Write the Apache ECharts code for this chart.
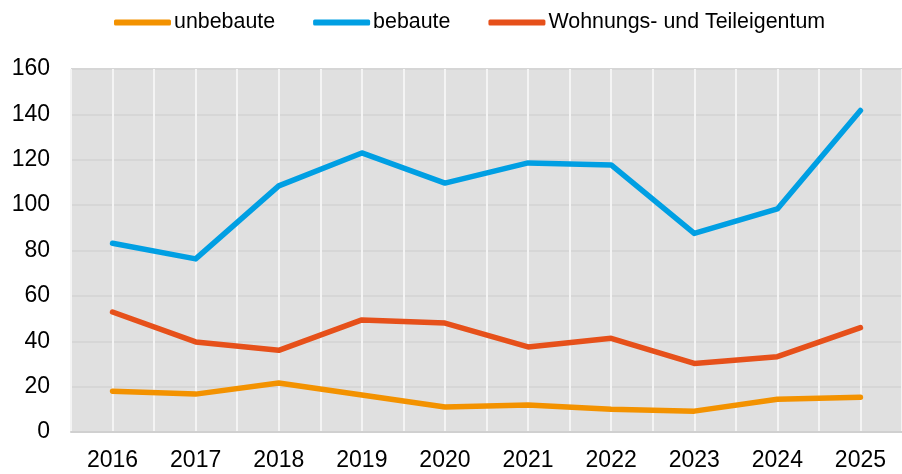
<!DOCTYPE html>
<html><head><meta charset="utf-8">
<script src="https://cdn.jsdelivr.net/npm/echarts@6/dist/echarts.min.js"></script>
<style>html,body{margin:0;padding:0;background:#fff}#c{width:902px;height:474px}</style>
</head><body><div id="c"></div>
<script>
const categories = ['2016','2017','2018','2019','2020','2021','2022','2023','2024','2025'];
const unbebaute = [18, 16.7, 21.6, 16.3, 11, 11.9, 10, 9.2, 14.4, 15.3];
const bebaute = [83.2, 76.3, 108.5, 123, 109.7, 118.6, 117.7, 87.5, 98.3, 141.7];
const wohnungs = [52.9, 39.7, 36, 49.4, 48, 37.5, 41.3, 30.2, 33.2, 46];
const yTicks = [0, 20, 40, 60, 80, 100, 120, 140, 160];
const halfSteps = categories.flatMap(c => [c + 'a', c + 'b']);
const font = 'Liberation Sans, Arial, sans-serif';
const chart = echarts.init(document.getElementById('c'));
const mk = (name, data, color) => ({
  name, type: 'line', data, xAxisIndex: 0, symbol: 'none',
  lineStyle: { width: 5.5, color, cap: 'round', join: 'round' }, itemStyle: { color }
});
chart.setOption({
  animation: false,
  legend: {
    top: 7, left: 109, itemWidth: 57, itemHeight: 6, itemGap: 38,
    textStyle: { fontFamily: font, fontSize: 21.4, color: '#000', padding: [0, 0, 0, -2] },
    icon: 'roundRect',
    data: ['unbebaute', 'bebaute', 'Wohnungs- und Teileigentum']
  },
  grid: { left: 71, right: -3, top: 69, bottom: 42, containLabel: false,
    show: true, backgroundColor: '#e0e0e0', borderWidth: 0 },
  xAxis: [
    { type: 'category', data: categories, boundaryGap: true,
      axisLine: { show: true, lineStyle: { color: '#d0d0d0', width: 2 } },
      axisTick: { show: false }, splitLine: { show: false },
      axisLabel: { fontFamily: font, fontSize: 23, color: '#000', margin: 17 } },
    { type: 'category', data: halfSteps, boundaryGap: true, position: 'bottom',
      axisLine: { show: false }, axisTick: { show: false }, axisLabel: { show: false },
      splitLine: { show: true, interval: 0, lineStyle: { color: '#f4f4f4', width: 2 } } }
  ],
  yAxis: {
    type: 'value', min: yTicks[0], max: yTicks[yTicks.length - 1], interval: 20,
    axisLine: { show: false }, axisTick: { show: false },
    splitLine: { lineStyle: { color: '#d6d6d6', width: 2 } },
    axisLabel: { fontFamily: font, fontSize: 23, color: '#000', margin: 21 }
  },
  series: [
    mk('unbebaute', unbebaute, '#F39200'),
    mk('bebaute', bebaute, '#009FE3'),
    mk('Wohnungs- und Teileigentum', wohnungs, '#E6501A')
  ]
});
</script></body></html>
